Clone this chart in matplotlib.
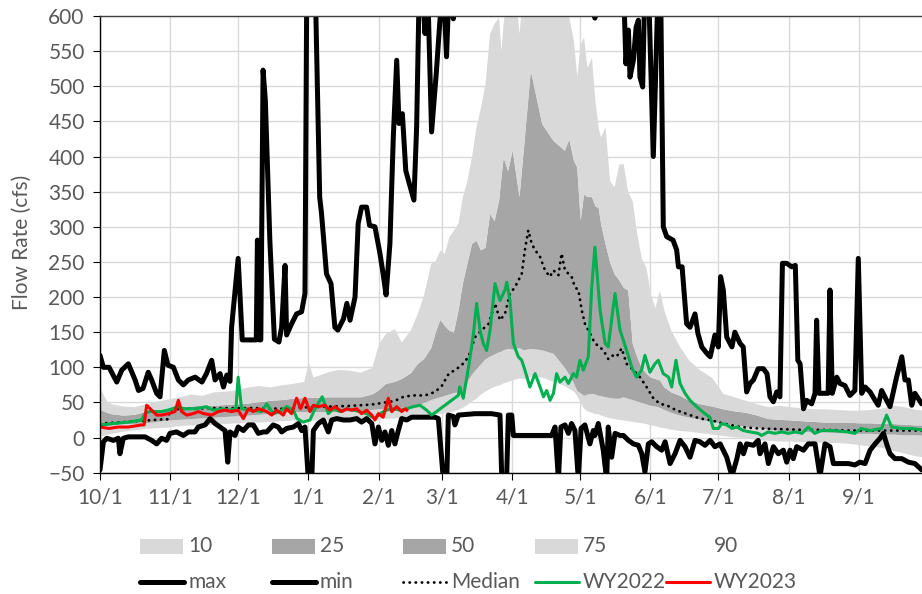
import matplotlib
matplotlib.use("Agg")
import matplotlib.pyplot as plt
from matplotlib.patches import Rectangle
from matplotlib.lines import Line2D

plt.rcParams['font.family'] = ['Lato', 'DejaVu Sans']

# x values are days since 10/1 (water year day)
month_days = [0, 31, 61, 92, 123, 151, 182, 212, 243, 273, 304, 335]
month_labels = ['10/1', '11/1', '12/1', '1/1', '2/1', '3/1', '4/1', '5/1', '6/1', '7/1', '8/1', '9/1']

# percentile bands
band_day = [0, 3, 5, 10, 15, 20, 25, 30, 35, 40, 45, 50, 55, 60, 65, 70, 75, 80, 85, 90,
            92, 94, 100, 105, 110, 115, 120, 123, 126, 130, 133, 137, 140, 143, 146, 148, 150, 152, 154, 156,
            158, 160, 162, 164, 166, 168, 170, 172, 174, 176, 177, 178, 180, 182, 185, 187, 190, 195, 200, 205,
            207, 209, 210.5, 212, 213.5, 215, 217, 218.5, 220, 221, 223, 225, 227, 229, 231, 233, 235, 237, 239, 241,
            243, 245, 247, 249, 252, 256, 260, 265, 270, 275, 280, 285, 290, 295, 300, 305, 310, 315, 320, 325,
            330, 335, 340, 345, 350, 355, 360, 365]
p90 = [70, 52, 48, 45, 44, 48, 52, 55, 58, 62, 60, 65, 66, 68, 72, 74, 72, 75, 77, 80,
       108, 86, 93, 97, 96, 93, 100, 134, 148, 155, 136, 153, 176, 205, 248, 252, 267, 262, 286, 295,
       305, 343, 366, 399, 442, 470, 504, 575, 590, 598, 551, 590, 640, 680, 575, 650, 700, 700, 700, 650,
       598, 566, 514, 560, 570, 527, 541, 480, 440, 428, 442, 366, 357, 389, 390, 350, 337, 290, 255, 243,
       205, 185, 210, 181, 153, 129, 110, 96, 86, 63, 58, 53, 48, 44, 46, 44, 42, 41, 41, 40,
       39, 39, 40, 42, 46, 44, 40, 39]
p75 = [40, 36, 34, 32, 33, 37, 40, 41, 44, 45, 46, 46, 47, 48, 49, 51, 53, 54, 56, 57,
       57, 57, 58, 58, 58, 58, 62, 68, 77, 80, 84, 92, 105, 113, 128, 150, 168, 160, 153, 150,
       180, 220, 248, 276, 281, 267, 271, 319, 309, 338, 370, 399, 380, 409, 343, 414, 523, 447, 423, 409,
       425, 395, 385, 309, 347, 343, 343, 330, 327, 305, 276, 250, 233, 225, 214, 210, 134, 115, 100, 92,
       86, 84, 82, 72, 65, 60, 53, 48, 45, 41, 38, 36, 32, 27, 26, 25, 24, 23, 22, 22,
       22, 21, 21, 20, 20, 19, 18, 18]
p25 = [16, 17, 18, 20, 20, 21, 23, 25, 26, 27, 28, 29, 30, 31, 32, 33, 35, 36, 37, 37,
       37, 37, 37, 37, 38, 39, 40, 41, 41, 42, 43, 45, 46, 50, 54, 56, 58, 60, 62, 64,
       65, 68, 80, 90, 98, 105, 112, 116, 119, 122, 123, 125, 127, 126, 128, 125, 127, 125, 120, 100,
       90, 78, 67, 64, 60, 62, 63, 62, 60, 60, 58, 57, 56, 56, 58, 56, 54, 52, 50, 48,
       46, 45, 43, 40, 36, 32, 29, 26, 23, 20, 18, 16, 15, 12, 10, 9, 9, 8, 8, 7,
       7, 6, 6, 5, 5, 4, 4, 3]
p10 = [2, 5, 6, 9, 11, 13, 14, 15, 17, 18, 18, 19, 20, 21, 22, 22, 23, 24, 25, 25,
       25, 25, 25, 25, 26, 26, 27, 27, 27, 28, 28, 29, 31, 32, 33, 34, 34, 35, 36, 38,
       40, 43, 47, 52, 56, 62, 66, 70, 73, 75, 76, 78, 80, 82, 85, 84, 87, 86, 80, 74,
       70, 66, 60, 50, 42, 38, 36, 34, 34, 32, 30, 28, 27, 26, 25, 24, 23, 22, 21, 20,
       18, 17, 15, 14, 12, 10, 9, 7, 5, 3, 1, 0, -3, -4, -5, -5, -6, -6, -7, -7,
       -8, -10, -12, -14, -18, -22, -26, -28]

# daily max of record
max_day = [0, 1.5, 4, 7.4, 9.6, 12.5, 15.5, 17, 19, 21.3,
           22.8, 25, 26.5, 28.4, 30, 32.4, 34.6, 36.8, 39, 42,
           45, 47, 49.3, 50.8, 53, 54.5, 56, 57.4, 58.1, 61,
           62.8, 67, 69, 69.5, 70.3, 71, 72, 73, 75, 77,
           79, 80.2, 81.7, 82.4, 84.6, 86.8, 89, 90.5, 91.3, 95,
           97, 97.8, 100, 102, 103.7, 105, 107.5, 109, 110.4, 112.6,
           114, 115.5, 117.7, 119, 121.4, 123.6, 125, 126.3, 128, 129.5,
           131, 132, 133.5, 135, 136.6, 138.6, 139.8, 141, 142.7, 143.5,
           144.6, 146.4, 148.5, 150, 151.5, 153, 154.2, 156, 157, 170,
           190, 210, 217.5, 218.5, 219.5, 225, 231.1, 232.2, 233.3, 234,
           235.5, 236.7, 237.7, 238.4, 239.6, 240.6, 242.1, 244.3, 246.5, 247.5,
           248.7, 250.2, 253, 254.6, 255.4, 257, 259, 260.5, 262.7, 264,
           265.7, 267.9, 269.4, 271.5, 273, 274, 275.2, 276.7, 279, 280.3,
           282.6, 284, 285.5, 287, 288.5, 290.6, 292.9, 294.5, 295.8, 297.3,
           298.8, 300.2, 301.3, 303.2, 305.4, 307, 308.1, 309.1, 310.6, 312,
           314.2, 315.7, 316.4, 317.4, 320, 321.5, 322.3, 323.3, 325.3, 326.7,
           328.9, 331.1, 333.3, 334.8, 336.3, 337.8, 340, 342.2, 343.6, 345.1,
           347.3, 348.8, 351.7, 354, 355.4, 356.9, 358.4, 359.8, 362.8]
max_cfs = [117, 100, 100, 79, 96, 105, 82, 67, 70, 93,
           82, 63, 58, 124, 103, 100, 82, 75, 82, 86,
           79, 91, 110, 82, 91, 72, 89, 80, 157, 255,
           139, 139, 139, 281, 139, 139, 523, 480, 280, 140,
           136, 157, 245, 146, 162, 176, 179, 205, 650, 650,
           342, 319, 233, 219, 157, 153, 169, 191, 167, 200,
           305, 328, 328, 302, 300, 262, 233, 203, 276, 428,
           537, 447, 461, 380, 361, 338, 442, 650, 620, 575,
           650, 435, 520, 590, 650, 542, 650, 596, 700, 800,
           800, 800, 700, 597, 700, 800, 650, 532, 580, 513,
           537, 584, 594, 513, 499, 650, 650, 400, 650, 650,
           300, 286, 281, 267, 243, 243, 162, 157, 176, 148,
           129, 120, 115, 146, 129, 229, 210, 143, 129, 150,
           134, 129, 65, 77, 82, 98, 98, 91, 58, 51,
           65, 58, 248, 248, 243, 245, 110, 105, 41, 53,
           48, 63, 167, 63, 63, 63, 210, 63, 86, 77,
           74, 60, 67, 255, 63, 72, 65, 53, 46, 67,
           53, 44, 86, 115, 82, 82, 46, 63, 48]

# daily min of record
min_day = [0, 1.5, 3, 5.9, 8.1, 8.8, 10.3, 12.5, 16.9, 19.9,
           22.8, 25, 27.2, 29.4, 30.9, 33.8, 36.8, 39, 41.9, 43.4,
           46.4, 48.6, 50.8, 53, 55.2, 56.4, 57.4, 59.6, 61, 63.3,
           65.5, 67.7, 69.9, 72.1, 73.6, 76.5, 78.7, 80.2, 82.4, 85.4,
           87.6, 89, 90.5, 92, 93.5, 94.2, 96.4, 98.6, 100.8, 102.3,
           104.5, 107.5, 110.4, 113.3, 115.5, 117.7, 120, 121.4, 122.9, 124.4,
           125.8, 127.3, 128.8, 130.2, 131.7, 133.2, 135.4, 137.6, 139.8, 142.7,
           145, 147.9, 149.4, 151.6, 153.1, 153.8, 156, 156.7, 158.2, 165.6,
           172.9, 176.6, 177.4, 179.5, 180.3, 181.8, 182.5, 184.7, 199.4, 200.9,
           202.4, 203.5, 205.3, 206.8, 208.2, 209.7, 211.2, 212.4, 214.1, 216.3,
           217.8, 218.5, 220, 222.2, 223.7, 224.4, 225.9, 227.4, 229.6, 231.1,
           233.3, 235.5, 237.7, 239.2, 240.6, 242.1, 243.6, 245.8, 248, 249.5,
           251.7, 253.9, 256.1, 258.3, 260.5, 262.7, 264.9, 267.1, 269.4, 271.5,
           273.8, 276.7, 279, 281.2, 282.6, 284.1, 285.5, 288.5, 290.6, 291.4,
           293.6, 295.1, 297.3, 299.5, 301.7, 303.2, 304.7, 306.1, 307.6, 310.6,
           312.7, 315.7, 317.9, 320.1, 322.3, 323.8, 326, 330.4, 333.3, 335.5,
           337.8, 340, 342.2, 344.4, 345.9, 347.3, 348.8, 351, 354, 356.9,
           359.8, 362.8]
min_cfs = [-46, -6, -1, -4, -1, -23, -1, 1, 1, 1,
           -4, -9, -1, -4, 6, 8, 3, 8, 8, 15,
           18, 27, 20, 15, 10, -35, 8, 3, 15, 10,
           18, 18, 6, 8, 8, 18, 15, 8, 13, 15,
           20, 10, 15, -60, -60, 10, 20, 25, 8, 25,
           27, 25, 25, 27, 22, 27, 20, -9, 15, -4,
           8, -11, 10, -9, 10, 27, 25, 29, 29, 29,
           29, 29, 27, -60, -60, 32, 30, 18, 32, 34,
           34, 32, -60, -60, 32, 32, 3, 3, 3, 15,
           -60, 15, 18, 6, 20, 10, -60, 13, 18, -9,
           10, 3, 20, -18, -60, 15, -28, 6, 3, 3,
           -4, -9, -11, -23, -49, -9, -6, -13, -18, -6,
           -37, -23, -4, -13, -28, -4, -6, -11, -4, -13,
           -9, -28, -55, -30, -9, -23, -9, -11, -4, -23,
           -9, -37, -13, -23, -18, -35, -18, -30, -13, -18,
           -9, -9, -55, -9, -13, -37, -37, -37, -39, -35,
           -37, -18, -9, -1, 6, -9, -23, -30, -30, -35,
           -37, -46]

# median of record
med_day = [0, 10, 19, 28, 30, 31, 40, 50, 60, 70,
           80, 90, 100, 110, 120, 130, 134, 138, 143.5, 148,
           151, 154, 156.7, 159.7, 162.7, 165.6, 168.6, 171.6, 174.4, 176.6,
           178.8, 181, 183.2, 186.2, 187.6, 189.1, 190.6, 192.1, 194.3, 196.5,
           198.6, 200.2, 202.4, 203.8, 205.3, 208.2, 209.7, 211.2, 212.7, 214.1,
           216.4, 218.5, 220.8, 223, 224.4, 225.9, 228.1, 230.3, 232.5, 235.5,
           238.4, 241.3, 244.3, 247.2, 250.2, 253.1, 256.1, 260.5, 265, 269.4,
           275.2, 282.6, 290.6, 300, 310, 320, 330, 340, 350, 365]
med_cfs = [20, 22, 24, 26, 26, 40, 41, 42, 42, 42,
           41, 43, 44, 45, 47, 52, 58, 60, 60, 65,
           74, 91, 96, 103, 115, 143, 153, 162, 191, 167,
           176, 205, 214, 233, 267, 295, 276, 267, 257, 238,
           229, 238, 231, 262, 238, 229, 214, 210, 181, 162,
           148, 134, 129, 120, 112, 117, 115, 127, 105, 96,
           86, 72, 56, 48, 46, 41, 37, 32, 27, 25,
           20, 15, 13, 12, 11, 11, 10, 10, 10, 10]

# water year 2022
wy22_day = [0, 6, 12.5, 18.4, 20, 22, 27, 30, 34.6, 37,
            42, 47, 50, 54, 57, 60, 61, 62.5, 67, 71.4,
            73.6, 76.5, 79.5, 82.4, 85.4, 87, 89.7, 92.7, 94.9, 98.1,
            100.8, 103, 106, 109, 111.9, 114.8, 117.7, 121.4, 123.6, 126.5,
            129.5, 132.5, 135.4, 138.3, 141.3, 144.2, 146.4, 149.4, 152.3, 155.2,
            158.2, 158.8, 160.4, 162.7, 164.8, 166.3, 167.8, 169.2, 170.7, 172.2,
            174.4, 176.6, 178.8, 179.6, 181, 182.5, 184.7, 186.2, 187.6, 189.8,
            192.1, 194.3, 195.8, 197.2, 198.7, 200.2, 201.6, 203.1, 205.3, 206.8,
            209, 210.4, 211.9, 213.4, 215.6, 217.1, 218.5, 220.8, 223, 224.4,
            226.6, 227.4, 229.6, 232.5, 234.8, 236.9, 239.1, 240.6, 242.8, 245,
            246.5, 248.7, 251, 252.4, 254.3, 256.1, 258.3, 260.5, 263.4, 267.1,
            269.3, 270.8, 273, 274.5, 276.7, 279, 281.2, 284, 287, 290.6,
            292.1, 295, 298, 301, 304, 307, 310, 312.7, 315.5, 318.6,
            324, 330, 333.3, 336, 340, 345.1, 347.3, 349.5, 354, 358, 363]
wy22_cfs = [18, 20, 22, 25, 35, 37, 37, 39, 44, 41,
            41, 44, 39, 41, 39, 41, 86, 41, 39, 37,
            48, 34, 37, 44, 39, 27, 22, 25, 41, 58,
            34, 41, 37, 41, 39, 37, 34, 27, 34, 39,
            41, 39, 41, 44, 46, 39, 32, 39, 46, 53,
            60, 72, 56, 100, 146, 191, 153, 134, 124, 153,
            219, 195, 210, 221, 195, 134, 115, 110, 96, 72,
            91, 72, 58, 67, 53, 63, 91, 79, 86, 77,
            91, 86, 110, 96, 115, 214, 271, 181, 134, 129,
            186, 205, 153, 124, 100, 86, 96, 117, 93, 105,
            110, 91, 86, 72, 110, 77, 63, 53, 44, 34,
            29, 13, 13, 20, 18, 13, 15, 10, 8, 6,
            3, 8, 6, 8, 6, 8, 6, 15, 6, 10,
            10, 8, 6, 13, 10, 13, 32, 15, 13, 13, 11]

# water year 2023 (to date)
wy23_day = [0, 4, 8, 12.5, 18.4, 19.5, 20.6, 22.8, 25, 27.2,
            30.2, 33.1, 34.6, 36, 38.3, 41, 43.4, 46, 49.3, 52.2,
            55.2, 58, 61, 63.3, 65.5, 67.7, 69.9, 72, 73.6, 75.8,
            78, 80.9, 82.4, 84.6, 86.8, 88.6, 90.5, 92.7, 94.2, 96.4,
            99.3, 101.5, 103.7, 106.7, 109, 111, 113.3, 115.5, 117.7, 120,
            121.4, 122.9, 125, 127.3, 128.8, 131, 133.2, 134.7, 135.4]
wy23_cfs = [15, 13, 15, 15, 18, 18, 46, 39, 32, 32,
            34, 37, 53, 37, 32, 34, 37, 34, 32, 37,
            39, 37, 39, 27, 41, 37, 41, 39, 37, 32,
            39, 32, 41, 34, 56, 41, 56, 37, 46, 44,
            46, 39, 44, 37, 41, 39, 41, 34, 39, 32,
            25, 34, 29, 56, 37, 44, 37, 41, 39]

W, H = 922, 594
fig = plt.figure(figsize=(W / 100, H / 100), dpi=100)
ax = fig.add_axes([100 / W, (H - 472.7) / H, 826.7 / W, (472.7 - 16) / H])

light = '#d9d9d9'
dark = '#a6a6a6'
txt = '#595959'

ax.fill_between(band_day, p10, p25, color=light, lw=0)
ax.fill_between(band_day, p25, p75, color=dark, lw=0)
ax.fill_between(band_day, p75, p90, color=light, lw=0)

thick = dict(color='black', lw=3.6, solid_joinstyle='round', solid_capstyle='round')
ax.plot(max_day, max_cfs, **thick)
ax.plot(min_day, min_cfs, **thick)
ax.plot(med_day, med_cfs, color='black', lw=2.0, linestyle=(0, (0.1, 2.1)), dash_capstyle='round')
ax.plot(wy22_day, wy22_cfs, color='#00b050', lw=2.2, solid_joinstyle='round')
ax.plot(wy23_day, wy23_cfs, color='#ff0000', lw=2.2, solid_joinstyle='round')

ax.set_xlim(0, 365)
ax.set_ylim(-50, 600)
ax.set_xticks(month_days)
ax.set_xticklabels(month_labels)
ax.set_yticks(range(-50, 601, 50))
ax.set_axisbelow(True)
ax.grid(True, color='#d9d9d9', lw=1)
ax.tick_params(axis='both', direction='out', length=5, width=0.8, color='black',
               labelsize=15, labelcolor=txt, pad=6)
for s in ['left', 'bottom']:
    ax.spines[s].set_color('black')
    ax.spines[s].set_linewidth(1)
ax.spines['top'].set_color('#404040')
ax.spines['top'].set_linewidth(1)
ax.spines['right'].set_visible(False)

fig.text(22 / W, 1 - 242 / H, 'Flow Rate (cfs)', rotation=90, ha='center', va='center',
         fontsize=15, color=txt)

# legend drawn by hand to keep Excel's even spacing
band_names = ['10', '25', '50', '75', '90']
band_colors = [light, dark, dark, light, 'white']
line_names = ['max', 'min', 'Median', 'WY2022', 'WY2023']
line_styles = [dict(color='black', lw=3.6), dict(color='black', lw=3.6),
               dict(color='black', lw=2.0, linestyle=(0, (0.1, 2.1)), dash_capstyle='round'),
               dict(color='#00b050', lw=2.2), dict(color='#ff0000', lw=2.2)]
row1, row2 = 546, 582
for i in range(5):
    x0 = 140 + 131.5 * i
    fig.add_artist(Rectangle((x0 / W, 1 - (row1 + 7.5) / H), 43 / W, 15 / H,
                             transform=fig.transFigure, color=band_colors[i], lw=0))
    fig.text((x0 + 48) / W, 1 - row1 / H, band_names[i], ha='left', va='center', fontsize=15, color=txt)
    fig.add_artist(Line2D([x0 / W, (x0 + 44) / W], [1 - row2 / H, 1 - row2 / H],
                          transform=fig.transFigure, solid_capstyle='round', **line_styles[i]))
    fig.text((x0 + 48) / W, 1 - row2 / H, line_names[i], ha='left', va='center', fontsize=15, color=txt)

fig.savefig('out.png', dpi=100)
